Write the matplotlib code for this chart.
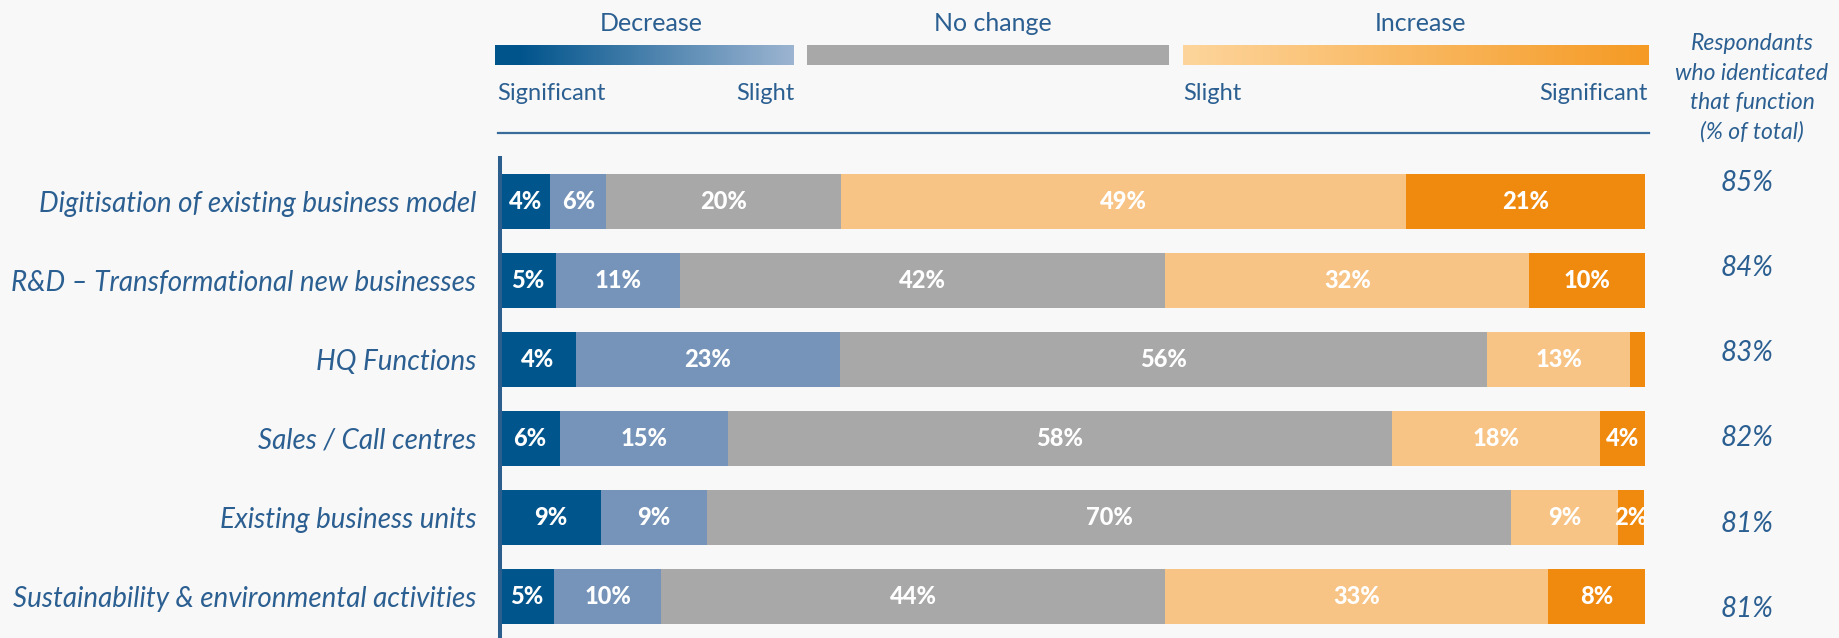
import numpy as np
import matplotlib
matplotlib.use('Agg')
import matplotlib.pyplot as plt
from matplotlib.colors import LinearSegmentedColormap

plt.rcParams['font.family'] = ['Lato', 'DejaVu Sans']

functions = ['Digitisation of existing business model',
             'R&D – Transformational new businesses',
             'HQ Functions',
             'Sales / Call centres',
             'Existing business units',
             'Sustainability & environmental activities']

# segment widths as drawn (% of each row)
sig_dec = [4.4, 4.9, 6.6, 5.2, 8.8, 4.7]
sli_dec = [4.9, 10.8, 23.1, 14.7, 9.3, 9.4]
no_change = [20.5, 42.4, 56.5, 58.0, 70.2, 44.0]
sli_inc = [49.3, 31.8, 12.5, 18.2, 9.3, 33.4]
sig_inc = [20.9, 10.1, 1.4, 3.9, 2.3, 8.5]

# numbers printed on the segments
sig_dec_lbl = [4, 5, 4, 6, 9, 5]
sli_dec_lbl = [6, 11, 23, 15, 9, 10]
no_change_lbl = [20, 42, 56, 58, 70, 44]
sli_inc_lbl = [49, 32, 13, 18, 9, 33]
sig_inc_lbl = [21, 10, None, 4, 2, 8]

respondents = [85, 84, 83, 82, 81, 81]

series = [sig_dec, sli_dec, no_change, sli_inc, sig_inc]
labels = [sig_dec_lbl, sli_dec_lbl, no_change_lbl, sli_inc_lbl, sig_inc_lbl]
colors = ['#00558c', '#7694ba', '#a8a8a8', '#f8c486', '#f08a0e']

txt = '#2b5f91'
bg = '#f8f8f8'
W, H = 1840, 638

fig = plt.figure(figsize=(W / 100, H / 100), dpi=100, facecolor=bg)

# main bar axes
ax = fig.add_axes([500 / W, 0, 1145 / W, 480 / H])
ax.set_facecolor('none')
y = np.arange(len(functions))
left = np.zeros(len(functions))
for vals, lbls, c in zip(series, labels, colors):
    vals = np.array(vals)
    ax.barh(y, vals, left=left, height=0.70, color=c, edgecolor='none')
    for i in range(len(functions)):
        if lbls[i] is None:
            continue
        ax.text(left[i] + vals[i] / 2, y[i], f'{lbls[i]}%', ha='center', va='center',
                color='white', fontsize=17, fontweight='black', clip_on=True)
    left += vals

ax.set_xlim(0, 100)
ax.set_ylim(5.525, -0.55)
ax.set_yticks(y)
ax.set_yticklabels(functions, fontsize=20, style='italic', color=txt)
ax.tick_params(axis='y', length=0, pad=17)
ax.set_xticks([])
for s in ['top', 'right', 'bottom']:
    ax.spines[s].set_visible(False)
ax.spines['left'].set_color('#2c5f8e')
ax.spines['left'].set_linewidth(2.9)

# share of respondents column
for i, v in enumerate(respondents):
    ax.text(111.2, i * 1.076 - 0.228, f'{v}%', ha='right', va='center',
            fontsize=20, style='italic', color=txt, clip_on=False)

# header / legend
hax = fig.add_axes([0, 0, 1, 1], zorder=-1)
hax.set_facecolor('none')
hax.axis('off')
blue_cm = LinearSegmentedColormap.from_list('dec', [(0, '#00548c'), (0.08, '#00548c'), (1, '#9cb4d1')])
orange_cm = LinearSegmentedColormap.from_list('inc', ['#fdd59c', '#f59a24'])
grad = np.linspace(0, 1, 256).reshape(1, -1)
hax.imshow(grad, cmap=blue_cm, extent=(495, 794, 65, 45), aspect='auto')
hax.imshow(grad, cmap=orange_cm, extent=(1183, 1649, 65, 45), aspect='auto')
hax.add_patch(plt.Rectangle((807, 45), 362, 20, color='#a8a8a8', lw=0))
hax.plot([498, 1649], [133, 133], color='#3a6c9b', lw=1.6)
hax.set_xlim(0, W)
hax.set_ylim(H, 0)

hax.text(651, 31, 'Decrease', ha='center', va='baseline', fontsize=18, color=txt)
hax.text(993, 31, 'No change', ha='center', va='baseline', fontsize=18, color=txt)
hax.text(1421, 31, 'Increase', ha='center', va='baseline', fontsize=18, color=txt)
hax.text(497, 100, 'Significant', ha='left', va='baseline', fontsize=17, color=txt)
hax.text(794, 100, 'Slight', ha='right', va='baseline', fontsize=17, color=txt)
hax.text(1183, 100, 'Slight', ha='left', va='baseline', fontsize=17, color=txt)
hax.text(1648, 100, 'Significant', ha='right', va='baseline', fontsize=17, color=txt)
hax.text(1752, 88, 'Respondants\nwho identicated\nthat function\n(% of total)', ha='center',
         va='center', fontsize=16.5, style='italic', color=txt, linespacing=1.48)

fig.savefig('out.png', dpi=100, facecolor=bg)
